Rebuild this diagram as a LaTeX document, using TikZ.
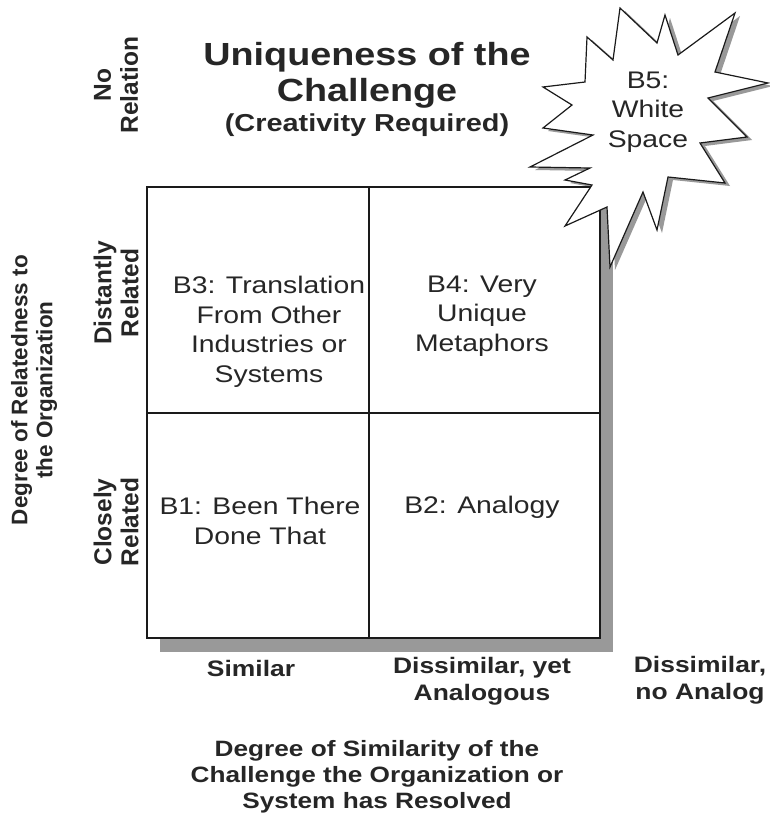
\documentclass[tikz,border=0pt]{standalone}
\usepackage{fontspec}
\setmainfont[FakeStretch=1.18]{Liberation Sans}
\newfontfamily\rotfont{Liberation Sans}
\definecolor{shadowgray}{HTML}{999999}
\definecolor{linecol}{HTML}{1A1A1A}
\begin{document}
\begin{tikzpicture}[x=1pt,y=-1pt,
  gridline/.style={draw=linecol,line width=1.6pt},
  starline/.style={draw=linecol,line width=1.2pt,line join=miter,fill=white},
  celltext/.style={font=\fontsize{24}{29.5}\selectfont,align=center,inner sep=0pt,text=black!85},
  axislabel/.style={font=\bfseries\fontsize{22.4}{27}\selectfont,align=center,inner sep=0pt,text=black!85},
  rotlabel/.style={font=\rotfont\bfseries\fontsize{24.5}{27}\selectfont,align=center,inner sep=0pt,rotate=90,text=black!85},
  titletext/.style={font=\bfseries\fontsize{32}{36}\selectfont,align=center,inner sep=0pt,text=black!85}]
\useasboundingbox (0,0) rectangle (770,819);
% star shadow
\begin{scope}[shift={(5,3)}]
\fill[shadowgray] (620,8) -- (657,43) -- (665,15) -- (678,55) -- (735,13) -- (715,72) -- (768,83) -- (708,98) -- (747,137) -- (700,143) -- (725,183) -- (668,177) -- (657,230) -- (643,192) -- (610,267) -- (607,207) -- (565,226) -- (592,185) -- (565,180) -- (590,168) -- (530,167) -- (593,135) -- (543,128) -- (572,105) -- (543,87) -- (585,82) -- (587,37) -- (613,60) -- cycle;
\end{scope}
% grid shadow and grid
\fill[shadowgray] (160,200) rectangle (613,652);
\fill[white] (147,187) rectangle (600,638);
\draw[gridline] (147,187) rectangle (600,638);
\draw[gridline] (369,187) -- (369,638);
\draw[gridline] (147,413) -- (600,413);
% star
\path[starline] (620,8) -- (657,43) -- (665,15) -- (678,55) -- (735,13) -- (715,72) -- (768,83) -- (708,98) -- (747,137) -- (700,143) -- (725,183) -- (668,177) -- (657,230) -- (643,192) -- (610,267) -- (607,207) -- (565,226) -- (592,185) -- (565,180) -- (590,168) -- (530,167) -- (593,135) -- (543,128) -- (572,105) -- (543,87) -- (585,82) -- (587,37) -- (613,60) -- cycle;
% texts
\node[titletext] (title) at (367,75) {Uniqueness of the\\Challenge};
\node[font=\bfseries\fontsize{24.5}{28}\selectfont,inner sep=0pt,text=black!85] (subtitle) at (367,125) {(Creativity Required)};
\node[celltext] (b5) at (648,112) {B5:\\White\\Space};
\node[celltext] (b3) at (269,332) {B3: Translation\\From Other\\Industries or\\Systems};
\node[celltext] (b4) at (482,316) {B4: Very\\Unique\\Metaphors};
\node[celltext] (b1) at (260,521) {B1: Been There\\Done That};
\node[celltext] (b2) at (482,507) {B2: Analogy};
\node[axislabel] (similar) at (251,668) {Similar};
\node[axislabel] (dissyet) at (482,681) {Dissimilar, yet\\Analogous};
\node[axislabel] (dissno) at (700,680) {Dissimilar,\\no Analog};
\node[axislabel,font=\bfseries\fontsize{22.2}{26}\selectfont] (xaxis) at (377,777) {Degree of Similarity of the\\Challenge the Organization or\\System has Resolved};
\node[rotlabel] (norel) at (116,85) {No\\Relation};
\node[rotlabel] (distrel) at (116,293) {Distantly\\Related};
\node[rotlabel] (closerel) at (116,522) {Closely\\Related};
\node[rotlabel,font=\rotfont\bfseries\fontsize{22.5}{25}\selectfont] (yaxis) at (34,390) {Degree of Relatedness to\\the Organization};
\end{tikzpicture}
\end{document}
